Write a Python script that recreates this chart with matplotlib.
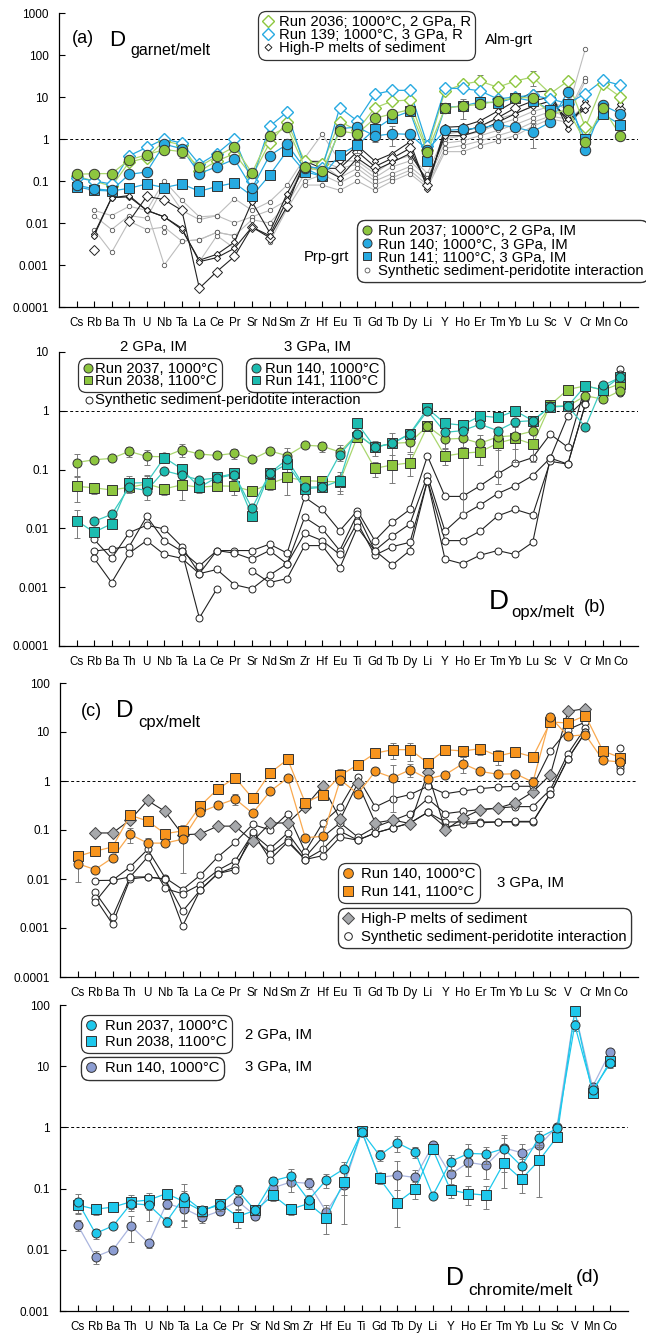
import numpy as np
import matplotlib
matplotlib.use("Agg")
import matplotlib.pyplot as plt
from matplotlib.lines import Line2D
from matplotlib.ticker import NullLocator

plt.rcParams['font.family'] = ['Liberation Sans', 'DejaVu Sans']

nan = np.nan
W, H = 646, 1335

elements = ["Cs", "Rb", "Ba", "Th", "U", "Nb", "Ta", "La", "Ce", "Pr", "Sr", "Nd", "Sm", "Zr", "Hf",
            "Eu", "Ti", "Gd", "Tb", "Dy", "Li", "Y", "Ho", "Er", "Tm", "Yb", "Lu", "Sc", "V", "Cr", "Mn", "Co"]
elements_d = [e for e in elements if e != "Cr"]

# ---------------- (a) garnet/melt ----------------
a_run2036 = [0.13, 0.1, 0.075, 0.28, 0.36, 0.9, 0.72, 0.17, 0.3, 0.45, 0.13, 0.8, 2.5, 0.3, 0.25,
             2.6, 1.6, 5.5, 8.0, 8.5, 0.55, 14, 20, 24, 17, 24, 30, 12, 24, 1.9, 20, 10]
a_run139 = [0.12, 0.1, 0.085, 0.4, 0.63, 1.0, 0.8, 0.25, 0.45, 1.0, 0.1, 2.0, 4.4, 0.22, 0.2,
            5.6, 2.7, 11.6, 14.4, 14.4, 0.7, 16, 16, 14, 9, 10, 11, 9, 7, 12, 25, 19]
a_run2037 = [0.144, 0.15, 0.15, 0.32, 0.42, 0.56, 0.5, 0.22, 0.39, 0.65, 0.155, 1.2, 1.9, 0.22, 0.17,
             1.55, 1.34, 3.1, 4.0, 5.0, 0.5, 5.4, 6.1, 6.7, 8.0, 9.6, 9.6, 4.0, 4.9, 0.86, 5.5, 1.2]
a_run140 = [0.08, 0.065, 0.06, 0.144, 0.164, 0.75, 0.59, 0.15, 0.22, 0.33, 0.068, 0.4, 0.75, 0.2, 0.13,
            1.76, 1.93, 1.18, 1.34, 1.29, 0.55, 1.6, 1.7, 1.8, 2.2, 1.9, 1.5, 2.5, 13.4, 0.55, 6.4, 4.0]
a_run141 = [0.073, 0.06, 0.058, 0.067, 0.085, 0.07, 0.085, 0.057, 0.074, 0.09, 0.044, 0.137, 0.52, 0.167, 0.13,
            0.42, 0.72, 1.7, 3.2, 4.6, 0.3, 5.6, 6.1, 7.6, 7.3, 9.6, 8.0, 5.0, 7.0, 1.0, 3.9, 2.2]
a_run2037_err = [0.2, 0, 0, 0, 0.2, 0, 0.3, 0, 0, 0.2, 0, 0, 0, 0, 0,
                 0, 0.2, 0, 0, 0, 0, 0, 0, 0, 0, 0, 0, 0, 0, 0, 0, 0]
a_run140_err = [0, 0, 0, 0, 0, 0, 0, 0, 0, 0, 0, 0, 0, 0, 0,
                0, 0, 0.3, 0.5, 0, 0, 0, 0, 0, 0, 0, 0.6, 0, 0, 0, 0, 0]
a_run141_err = [0, 0, 0, 0, 0, 0, 0, 0, 0, 0, 0, 0, 0, 0, 0,
                0, 0.35, 0, 0, 0, 0, 0, 0.5, 0, 0, 0, 0, 0, 0, 0, 0, 0]
a_run2036_err = [0, 0, 0, 0, 0, 0, 0, 0, 0, 0, 0, 0, 0, 0, 0,
                 0, 0, 0, 0, 0, 0, 0, 0, 0.4, 0, 0, 0.4, 0, 0, 0, 0, 0]

a_highp = [
    [nan, 0.0055, 0.04, 0.042, 0.02, 0.014, 0.007, 0.0013, 0.0018, 0.0035, 0.032, 0.006, 0.05, 0.3, 0.28,
     0.3, 0.7, 0.3, 0.45, 0.85, 0.065, 1.9, 2.0, 2.7, 4.6, 8.0, 13, 14, 1.7, 8.0, nan, 9.6],
    [nan, 0.0023, nan, 0.011, 0.043, 0.036, 0.02, 0.00028, 0.0007, 0.0016, 0.008, 0.0045, 0.025, 0.3, 0.2,
     0.2, 0.5, 0.22, 0.35, 0.6, 0.08, 1.5, 1.5, 2.0, 3.2, 5.5, 8.0, 10, 2.5, 6.0, nan, 5.1],
    [nan, 0.005, 0.04, 0.045, 0.02, 0.014, 0.0075, 0.0012, 0.0015, 0.0025, 0.008, 0.005, 0.035, 0.22, 0.2,
     0.12, 0.35, 0.18, 0.28, 0.45, 0.1, 1.2, 1.2, 1.6, 2.5, 4.0, 6.0, 8.0, 3.0, 5.0, nan, 7.0],
]
a_synthetic = [
    [nan, 0.02, 0.015, 0.025, 0.02, 0.1, 0.035, 0.014, 0.015, 0.038, 0.02, 0.032, 0.08, 0.35, 1.3,
     0.3, 0.3, 0.15, 0.3, 0.4, 0.15, 1.3, 1.5, 2.0, 3.0, 4.0, 6.0, 8.0, 5.0, 140, nan, 8.0],
    [nan, 0.015, 0.007, 0.015, 0.013, 0.08, 0.02, 0.012, 0.015, 0.01, 0.014, 0.02, 0.035, 0.3, 0.3,
     0.2, 0.25, 0.12, 0.22, 0.3, 0.12, 1.0, 1.2, 1.5, 2.2, 3.0, 4.5, 6.0, 4.0, 29, nan, 6.0],
    [nan, 0.007, 0.002, 0.011, 0.007, 0.008, 0.0037, 0.004, 0.006, 0.005, 0.012, 0.01, 0.028, 0.15, 0.25,
     0.12, 0.2, 0.1, 0.15, 0.22, 0.1, 0.8, 0.9, 1.2, 1.6, 2.2, 3.2, 4.5, 3.5, 24, nan, 5.0],
    [nan, 0.005, nan, nan, nan, 0.006, nan, 0.0012, 0.005, 0.0025, nan, 0.0035, 0.022, 0.1, 0.14,
     0.09, 0.15, 0.08, 0.12, 0.18, 0.08, 0.6, 0.7, 0.9, 1.2, 1.6, 2.5, 3.5, 3.0, 6.0, nan, 4.0],
    [nan, nan, nan, nan, 0.02, 0.001, 0.0037, 0.004, 0.006, 0.005, nan, nan, nan, 0.08, 0.08,
     0.06, 0.1, 0.06, 0.1, 0.15, 0.07, 0.5, 0.5, 0.7, 0.9, 1.2, 2.0, 3.0, 2.5, 5.0, nan, 3.5],
]

# ---------------- (b) opx/melt ----------------
b_run2037 = [0.132, 0.147, 0.155, 0.204, 0.168, 0.165, 0.218, 0.184, 0.174, 0.19, 0.149, 0.209, 0.172, 0.26, 0.25,
             0.2, 0.4, 0.24, 0.28, 0.29, 0.55, 0.33, 0.34, 0.28, 0.36, 0.38, 0.45, 1.2, 1.2, 1.8, 1.58, 2.2]
b_run2038 = [0.052, 0.049, 0.045, 0.05, 0.057, 0.047, 0.055, 0.05, 0.053, 0.052, 0.043, 0.057, 0.074, 0.065, 0.063,
             0.062, 0.36, 0.105, 0.12, 0.13, 0.55, 0.17, 0.19, 0.2, 0.28, 0.34, 0.27, 1.26, 2.3, 2.66, 2.25, 2.9]
b_run140 = [nan, 0.0132, 0.0173, 0.05, 0.044, 0.096, 0.08, 0.067, 0.072, 0.082, 0.022, 0.086, 0.15, 0.05, 0.051,
            0.18, 0.4, 0.24, 0.28, 0.4, 1.0, 0.43, 0.46, 0.59, 0.46, 0.65, 0.68, 1.17, 1.2, 0.53, 2.7, 3.7]
b_run141 = [0.0136, 0.0086, 0.012, 0.059, 0.06, 0.16, 0.102, 0.05, 0.074, 0.086, 0.016, 0.086, 0.124, 0.047, 0.05,
            0.065, 0.61, 0.24, 0.28, 0.41, 1.1, 0.61, 0.57, 0.82, 0.77, 1.0, 0.68, 1.17, 1.2, 2.66, 2.27, 3.8]
b_run2037_err = [0.4, 0, 0, 0.2, 0.3, 0, 0.25, 0, 0, 0.2, 0, 0, 0.35, 0, 0.2,
                 0.3, 0, 0.3, 0.5, 0.3, 0, 0.3, 0.3, 0.4, 0.4, 0.4, 0.4, 0, 0, 0, 0, 0.15]
b_run2038_err = [0.45, 0.2, 0, 0.2, 0.35, 0.2, 0.45, 0.2, 0.15, 0.3, 0, 0.2, 0.5, 0.2, 0.25,
                 0.3, 0, 0.3, 0.5, 0.4, 0, 0.3, 0.95, 0.4, 0.8, 0.6, 0.5, 0, 0, 0, 0, 0.2]
b_run140_err = [0, 0, 0, 0, 0.3, 0, 0, 0, 0, 0, 0, 0, 0, 0, 0,
                0, 0, 0, 0, 0, 0, 0, 0, 0, 0, 0, 0, 0, 0, 0, 0, 0]
b_run141_err = [0.5, 0, 0, 0.3, 0.35, 0, 0, 0, 0, 0, 0, 0, 0, 0, 0,
                0.4, 0, 0, 0, 0, 0, 0, 0, 0, 0, 0, 0, 0, 0, 0, 0, 0]
b_synthetic = [
    [nan, 0.0065, 0.0031, 0.0085, 0.0113, 0.0098, 0.0049, 0.0017, 0.0042, 0.0042, 0.0042, 0.0054, 0.0038, 0.034, 0.021,
     0.0091, 0.02, 0.0062, 0.0126, 0.021, 0.17, 0.035, 0.035, 0.053, 0.084, 0.127, 0.16, 0.4, 0.24, 2.66, nan, 5.1],
    [nan, 0.0041, 0.0045, 0.0049, 0.016, 0.0062, 0.0041, 0.0023, 0.0042, 0.0038, 0.003, 0.0042, 0.0025, 0.0154, 0.0098,
     0.0042, 0.0175, 0.0042, 0.0074, 0.0119, 0.079, 0.009, 0.0168, 0.025, 0.039, 0.053, 0.079, 0.157, 0.82, 1.58, nan, 4.3],
    [nan, 0.0031, 0.0012, 0.0038, 0.0062, 0.0036, 0.0031, 0.0017, 0.002, 0.0011, 0.00094, 0.0016, 0.0025, 0.0082, 0.0062,
     0.0036, 0.0126, 0.0035, 0.0049, 0.0058, 0.065, 0.0062, 0.0062, 0.009, 0.0163, 0.021, 0.017, 0.138, 0.124, 1.3, nan, 2.1],
    [nan, nan, nan, nan, nan, nan, 0.0041, 0.0003, 0.00094, nan, 0.0019, 0.0012, 0.0014, 0.0051, 0.0051,
     0.0021, 0.0104, 0.0042, 0.0024, 0.0042, 0.065, 0.003, 0.0025, 0.0035, 0.0042, 0.0036, 0.0058, 0.157, 0.124, 1.3, nan, 1.97],
]

# ---------------- (c) cpx/melt ----------------
c_run140 = [0.0206, 0.0156, 0.027, 0.082, 0.054, 0.054, 0.065, 0.23, 0.32, 0.43, 0.22, 0.62, 1.15, 0.07, 0.074,
            1.06, 0.55, 1.57, 1.17, 1.7, 1.1, 1.35, 2.26, 1.57, 1.37, 1.41, 0.95, 20.2, 8.2, 8.8, 2.64, 2.44]
c_run141 = [0.029, 0.037, 0.045, 0.2, 0.153, 0.084, 0.096, 0.31, 0.68, 1.17, 0.44, 1.46, 2.77, 0.36, 0.53,
            1.3, 2.15, 3.7, 4.36, 4.36, 2.33, 4.36, 4.1, 4.57, 3.24, 3.9, 3.1, 16, 15.3, 21.6, 4.1, 3.0]
c_run140_err = [0.57, 0, 0, 0.35, 0.3, 0, 0.8, 0, 0, 0.25, 0, 0, 0, 0, 0.55,
                0, 0, 0, 0.8, 0.3, 0, 0, 0.35, 0, 0, 0, 0.3, 0, 0, 0, 0, 0]
c_run141_err = [0.3, 0, 0, 0, 0, 0, 0.3, 0, 0, 0, 0, 0, 0, 0, 0,
                0.35, 0, 0, 0.35, 0.4, 0, 0, 0.25, 0.25, 0.35, 0.15, 0, 0, 0, 0, 0, 0]
c_highp = [nan, 0.087, 0.087, 0.16, 0.4, 0.24, 0.08, 0.083, 0.12, 0.12, 0.059, 0.139, 0.139, 0.3, 0.79,
           0.165, 0.91, 0.14, 0.16, 0.135, 1.5, 0.099, 0.176, 0.26, 0.28, 0.36, 0.6, 1.35, 26.4, 30, nan, nan]
c_synthetic = [
    [nan, 0.0093, 0.0094, 0.0176, 0.04, 0.0106, 0.0061, 0.0119, 0.028, 0.056, 0.13, 0.1, 0.216, 0.036, 0.14,
     0.295, 1.2, 0.295, 0.436, 0.53, 0.78, 0.55, 0.625, 0.7, 0.75, 0.78, 0.78, 4.1, 11.2, 16, nan, 4.7],
    [nan, 0.0054, 0.0017, 0.011, 0.028, 0.0064, 0.005, 0.0077, 0.015, 0.0233, 0.084, 0.042, 0.087, 0.028, 0.072,
     0.14, 0.072, 0.115, 0.157, 0.216, 0.436, 0.216, 0.24, 0.26, 0.28, 0.3, 0.3, 0.67, 3.6, 12.3, nan, 2.1],
    [nan, 0.0041, 0.0012, 0.010, 0.011, 0.01, 0.0022, 0.0059, 0.0129, 0.0176, 0.072, 0.033, 0.062, 0.025, 0.04,
     0.094, 0.062, 0.087, 0.11, 0.14, 0.23, 0.146, 0.146, 0.146, 0.146, 0.146, 0.146, 0.55, 2.85, 10, nan, 1.87],
    [nan, 0.0034, 0.0094, 0.011, 0.011, 0.01, 0.0011, 0.0059, 0.0129, 0.0155, 0.09, 0.025, 0.057, 0.025, 0.03,
     0.072, 0.062, 0.087, 0.11, 0.14, 0.23, 0.115, 0.13, 0.14, 0.146, 0.15, 0.15, 0.55, 2.85, 10, nan, 1.57],
]

# ---------------- (d) chromite/melt ----------------
d_run2037 = [0.061, 0.0185, 0.0247, 0.057, 0.054, 0.029, 0.074, 0.044, 0.054, 0.094, 0.044, 0.134, 0.16, 0.065, 0.138,
             0.21, 0.85, 0.35, 0.56, 0.4, 0.077, 0.275, 0.376, 0.367, 0.45, 0.233, 0.68, 0.96, 47, 4.08, 11.1]
d_run2038 = [0.054, 0.046, 0.05, 0.061, 0.065, 0.083, 0.061, 0.043, 0.057, 0.035, 0.044, 0.078, 0.046, 0.057, 0.033,
             0.13, 0.87, 0.147, 0.059, 0.097, 0.44, 0.095, 0.083, 0.078, 0.26, 0.143, 0.29, 0.70, 79, 3.7, 12.3]
d_run140 = [0.0253, 0.0077, 0.0101, 0.0247, 0.0128, 0.057, 0.047, 0.034, 0.043, 0.063, 0.036, 0.103, 0.128, 0.122, 0.042,
            0.114, 0.85, 0.152, 0.166, 0.152, 0.508, 0.17, 0.268, 0.242, 0.465, 0.385, 0.508, 1.03, 80, 4.6, 17.3]
d_run2037_err = [0.35, 0.2, 0, 0.2, 0.45, 0.2, 0.6, 0.2, 0.2, 0.2, 0, 0.15, 0.3, 0.2, 0.25,
                 0.3, 0.05, 0.2, 0.3, 0.2, 0, 0.3, 0.4, 0.3, 0.5, 0.3, 0.3, 0.1, 0.2, 0.1, 0.15]
d_run2038_err = [0.3, 0.2, 0.1, 0.3, 0.3, 0.2, 0.5, 0.2, 0.2, 0.35, 0.15, 0.2, 0.2, 0.2, 0.45,
                 0.8, 0.05, 0.2, 0.6, 0.3, 0.1, 0.25, 0.35, 0.4, 0.6, 0.4, 0.75, 0.15, 0.1, 0.1, 0.15]
d_run140_err = [0.2, 0.25, 0.1, 0.45, 0.15, 0.2, 0.5, 0.2, 0.15, 0.3, 0.1, 0.2, 0.3, 0.2, 0.3,
                0.3, 0.05, 0.2, 0.7, 0.3, 0.1, 0.4, 0.4, 0.4, 0.6, 0.4, 0.4, 0.1, 0.1, 0.1, 0.1]

# ---------------- colours ----------------
GREEN = '#8dc63f'
GREEN_L = '#a9d66e'
BLUE = '#27aae1'
TEAL = '#1cbcb0'
TEAL_L = '#3ccac0'
ORANGE = '#f7941d'
ORANGE_L = '#f9a94f'
GREY_D = '#a7a9ac'
CYAN = '#1ec8ec'
SLATE = '#8c9dd2'
SLATE_L = '#aab5df'
ERRC = '#7a7a7a'
EDGE = '#333333'
FS = 10.7  # legend / annotation text size


def fx(px):
    return px / W


def fy(py):
    return 1 - py / H


def series(ax, y, color, marker, ms, mfc, lw=0.9, err=None, z=5, mec=EDGE, mew=0.7):
    x = np.arange(len(y))
    y = np.asarray(y, dtype=float)
    ax.plot(x, y, color=color, lw=lw, zorder=z)
    if err is not None:
        e = np.asarray(err, dtype=float)
        m = e > 0
        up = y[m] * e[m]
        lo = np.minimum(y[m] * e[m], y[m] * 0.9)
        ax.errorbar(x[m], y[m], yerr=[lo, up], fmt='none', ecolor=ERRC, elinewidth=0.7,
                    capsize=2, capthick=0.7, zorder=z - 0.5)
    ax.plot(x, y, ls='none', marker=marker, ms=ms, mfc=mfc, mec=mec, mew=mew, zorder=z + 0.5)


def setup(ax, labels, lo, hi):
    ax.set_yscale('log')
    ax.set_ylim(lo, hi)
    ax.set_xlim(-1, len(labels))
    exps = np.arange(int(round(np.log10(lo))), int(round(np.log10(hi))) + 1)
    ticks = 10.0 ** exps
    ax.set_yticks(ticks)
    ax.set_yticklabels(['{:g}'.format(t) for t in ticks])
    ax.yaxis.set_minor_locator(NullLocator())
    ax.set_xticks(np.arange(len(labels)))
    ax.set_xticklabels(labels)
    ax.tick_params(direction='in', length=4.5, width=0.8)
    ax.tick_params(axis='y', pad=7.5, labelsize=8.5)
    ax.tick_params(axis='x', pad=7, labelsize=8.4)
    for s in ('top', 'right'):
        ax.spines[s].set_visible(False)
    for s in ('left', 'bottom'):
        ax.spines[s].set_linewidth(0.9)
    ax.axhline(1, ls=(0, (3, 2.5)), color='k', lw=0.7, zorder=1)


def box_legend(ax, handles, labels, x0, y0, spacing=0.0, hl=0.8, tp=0.3):
    leg = ax.legend(handles, labels, loc='upper left', bbox_to_anchor=(fx(x0), fy(y0)),
                    bbox_transform=fig.transFigure, fontsize=FS, frameon=True, fancybox=True,
                    handlelength=hl, handletextpad=tp, labelspacing=spacing, borderpad=0.3,
                    borderaxespad=0, framealpha=1, edgecolor='#333333')
    leg.get_frame().set_linewidth(0.9)
    leg.get_frame().set_boxstyle('round,pad=0,rounding_size=0.55')
    ax.add_artist(leg)
    return leg


def h(marker, mfc, ms, mec=EDGE, mew=0.7):
    return Line2D([], [], ls='none', marker=marker, mfc=mfc, mec=mec, ms=ms, mew=mew)


fig = plt.figure(figsize=(W / 100, H / 100), dpi=100)

ax_a = fig.add_axes([fx(59), fy(307), fx(638 - 59), (307 - 13) / H])
ax_b = fig.add_axes([fx(59), fy(646), fx(638 - 59), (646 - 352) / H])
ax_c = fig.add_axes([fx(60), fy(977), fx(638 - 60), (977 - 683) / H])
ax_d = fig.add_axes([fx(60), fy(1311), fx(628 - 60), (1311 - 1005) / H])

# ---- panel a ----
setup(ax_a, elements, 1e-4, 1e3)
for s in a_synthetic:
    series(ax_a, s, '#bdbdbd', 'o', 3.2, 'white', lw=0.8, z=2, mec='#555555', mew=0.6)
for i, s in enumerate(a_highp):
    series(ax_a, s, '#222222', 'D', 5 if i == 1 else 3.2, 'white', lw=0.8, z=3, mec='#222222', mew=0.7)
series(ax_a, a_run2036, GREEN_L, 'D', 6.5, 'white', lw=0.9, err=a_run2036_err, z=4, mec=GREEN, mew=1.0)
series(ax_a, a_run139, BLUE, 'D', 6.5, 'white', lw=0.9, z=4, mec=BLUE, mew=1.0)
series(ax_a, a_run141, BLUE, 's', 7, BLUE, err=a_run141_err, z=5)
series(ax_a, a_run140, BLUE, 'o', 7.5, BLUE, err=a_run140_err, z=5)
series(ax_a, a_run2037, GREEN_L, 'o', 7.5, GREEN, err=a_run2037_err, z=5)

fig.text(fx(72), fy(43), '(a)', fontsize=13, va='baseline')
fig.text(fx(109), fy(46), 'D', fontsize=16, va='baseline')
fig.text(fx(130), fy(55), 'garnet/melt', fontsize=11.5, va='baseline')

box_legend(ax_a,
           [h('D', 'white', 6, GREEN, 1.0), h('D', 'white', 6, BLUE, 1.0), h('D', 'white', 3.5, '#222222')],
           ['Run 2036; 1000°C, 2 GPa, R', 'Run 139; 1000°C, 3 GPa, R', 'High-P melts of sediment'],
           258, 11, spacing=-0.08)
fig.text(fx(485), fy(40), 'Alm-grt', fontsize=FS, va='center')
box_legend(ax_a,
           [h('o', GREEN, 6.5), h('o', BLUE, 6.5), h('s', BLUE, 6), h('o', 'white', 3.5, '#555555', 0.6)],
           ['Run 2037; 1000°C, 2 GPa, IM', 'Run 140; 1000°C, 3 GPa, IM', 'Run 141; 1100°C, 3 GPa, IM',
            'Synthetic sediment-peridotite interaction'],
           357, 220, spacing=-0.06)
fig.text(fx(304), fy(257), 'Prp-grt', fontsize=FS, va='center')

# ---- panel b ----
setup(ax_b, elements, 1e-4, 10)
for s in b_synthetic:
    series(ax_b, s, '#222222', 'o', 5, 'white', lw=0.8, z=2, mec='#222222', mew=0.7)
series(ax_b, b_run2038, GREEN_L, 's', 6.5, GREEN, err=b_run2038_err, z=4)
series(ax_b, b_run2037, GREEN_L, 'o', 6.5, GREEN, err=b_run2037_err, z=4)
series(ax_b, b_run141, TEAL_L, 's', 6.5, TEAL, err=b_run141_err, z=5)
series(ax_b, b_run140, TEAL_L, 'o', 6.5, TEAL, err=b_run140_err, z=5)

fig.text(fx(153), fy(347), '2 GPa, IM', fontsize=FS, va='center', ha='center')
fig.text(fx(318), fy(347), '3 GPa, IM', fontsize=FS, va='center', ha='center')
box_legend(ax_b, [h('o', GREEN, 6.5), h('s', GREEN, 6)], ['Run 2037, 1000°C', 'Run 2038, 1100°C'],
           78, 358, spacing=-0.17, hl=0.7, tp=0.12)
box_legend(ax_b, [h('o', TEAL, 6.5), h('s', TEAL, 6)], ['Run 140, 1000°C', 'Run 141, 1100°C'],
           246, 358, spacing=-0.17, hl=0.7, tp=0.3)
fig.add_artist(Line2D([fx(89)], [fy(400)], transform=fig.transFigure, ls='none', marker='o', ms=5,
                      mfc='white', mec='#222222', mew=0.7))
fig.text(fx(95), fy(400), 'Synthetic sediment-peridotite interaction', fontsize=FS, va='center')

fig.text(fx(489), fy(609), 'D', fontsize=20, va='baseline')
fig.text(fx(511), fy(617), 'opx/melt', fontsize=12, va='baseline')
fig.text(fx(584), fy(608), '(b)', fontsize=13, va='center')

# ---- panel c ----
setup(ax_c, elements, 1e-4, 100)
for s in c_synthetic:
    series(ax_c, s, '#222222', 'o', 5, 'white', lw=0.8, z=2, mec='#222222', mew=0.7)
series(ax_c, c_highp, '#222222', 'D', 6.5, GREY_D, lw=0.8, z=3, mec='#444444')
series(ax_c, c_run141, ORANGE_L, 's', 6.5, ORANGE, err=c_run141_err, z=5)
series(ax_c, c_run140, ORANGE_L, 'o', 6.5, ORANGE, err=c_run140_err, z=5)

fig.text(fx(81), fy(716), '(c)', fontsize=13, va='baseline')
fig.text(fx(116), fy(717), 'D', fontsize=17.5, va='baseline')
fig.text(fx(138), fy(727), 'cpx/melt', fontsize=12, va='baseline')
box_legend(ax_c, [h('o', ORANGE, 7), h('s', ORANGE, 6.5)], ['Run 140, 1000°C', 'Run 141, 1100°C'],
           338, 863, spacing=0.22, hl=0.8, tp=0.45)
fig.text(fx(497), fy(883), '3 GPa, IM', fontsize=FS, va='center')
box_legend(ax_c, [h('D', GREY_D, 6.5, '#444444'), h('o', 'white', 5.5, '#222222')],
           ['High-P melts of sediment', 'Synthetic sediment-peridotite interaction'],
           338, 908, spacing=0.22, hl=0.8, tp=0.45)

# ---- panel d ----
setup(ax_d, elements_d, 1e-3, 100)
series(ax_d, d_run140, SLATE_L, 'o', 6.5, SLATE, err=d_run140_err, z=4)
series(ax_d, d_run2038, CYAN, 's', 6.5, CYAN, err=d_run2038_err, z=5)
series(ax_d, d_run2037, CYAN, 'o', 6.5, CYAN, err=d_run2037_err, z=5)

box_legend(ax_d, [h('o', CYAN, 7), h('s', CYAN, 6.5)], ['Run 2037, 1000°C', 'Run 2038, 1100°C'],
           81, 1015, spacing=0.1, hl=0.8, tp=0.5)
fig.text(fx(245), fy(1035), '2 GPa, IM', fontsize=FS, va='center')
box_legend(ax_d, [h('o', SLATE, 7)], ['Run 140, 1000°C'], 81, 1057, spacing=0.1, hl=0.8, tp=0.5)
fig.text(fx(245), fy(1067), '3 GPa, IM', fontsize=FS, va='center')
fig.text(fx(446), fy(1285), 'D', fontsize=18, va='baseline')
fig.text(fx(468), fy(1295), 'chromite/melt', fontsize=12.5, va='baseline')
fig.text(fx(576), fy(1278), '(d)', fontsize=14, va='center')

fig.savefig('out.png', dpi=100)
